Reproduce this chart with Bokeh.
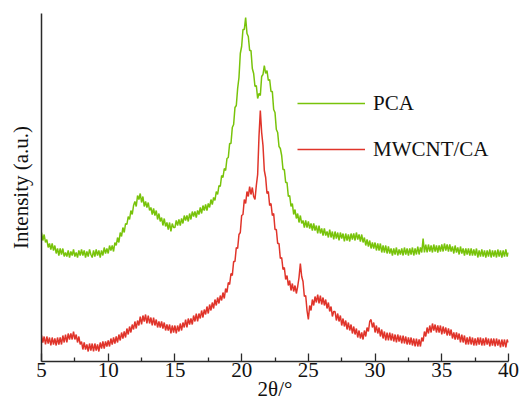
import numpy as np
from bokeh.plotting import figure
from bokeh.models import FixedTicker, Legend, LegendItem, ColumnDataSource
from bokeh.embed import file_html
from bokeh.resources import INLINE

# 2theta sampling grid (degrees), 0.1 deg step from 5 to 40
two_theta = [round(5.0 + 0.1 * i, 1) for i in range(351)]

# Intensity (a.u.), one row per degree (5.0 ... 5.9, 6.0 ...)
pca = [
    129,121,127,119,122,114,118,112,118,111,
    116,108,113,106,113,107,113,105,109,105,
    111,104,110,106,112,105,109,104,111,106,
    112,106,111,104,110,105,112,107,104,111,
    105,112,106,111,104,111,106,114,108,113,
    108,116,111,116,110,119,116,124,119,129,
    125,134,129,138,137,145,142,151,147,156,
    160,155,166,162,168,159,165,155,160,154,
    159,151,154,147,153,146,151,142,148,140,
    144,136,143,135,139,132,139,130,138,134,
    134,141,136,142,136,143,138,146,141,146,
    140,148,142,150,145,150,144,151,147,154,
    148,156,151,157,151,158,154,162,157,164,
    161,170,167,176,175,186,184,193,191,203,
    204,218,218,234,237,254,256,273,284,308,
    315,332,332,344,328,325,311,311,293,288,
    275,276,263,268,266,285,287,296,288,291,
    281,282,270,270,252,249,232,229,215,213,
    206,192,192,179,179,165,166,155,158,147,
    152,143,148,139,146,138,141,134,141,134,
    140,133,138,131,138,131,136,128,136,128,
    133,126,133,126,130,124,132,124,130,122,
    130,123,129,121,129,123,128,120,128,121,
    127,120,128,122,128,121,129,122,127,120,
    127,119,124,116,122,115,121,113,119,113,
    119,111,118,111,118,109,116,109,116,108,
    115,108,113,106,113,107,114,106,112,107,
    113,106,114,107,113,106,113,107,114,106,
    113,107,115,107,114,109,123,109,117,109,
    117,110,116,109,117,110,116,109,116,110,
    117,110,118,111,117,110,117,110,115,108,
    116,109,114,107,115,108,113,106,113,107,
    113,106,113,106,112,106,113,104,111,105,
    112,105,111,104,111,105,112,104,111,105,
    111,104,112,105,111,104,111,105,112,105,
    109,
]

mwcnt_ca = [
    26,19,25,17,25,18,24,16,24,17,
    23,16,24,17,24,17,26,19,27,19,
    28,22,28,22,30,22,27,19,25,17,
    20,12,19,12,17,10,18,11,18,10,
    18,11,17,10,19,13,20,13,20,15,
    21,15,23,17,24,18,25,19,27,21,
    29,23,30,24,33,27,35,29,37,32,
    40,33,41,36,45,37,46,40,47,38,
    46,38,44,36,44,36,42,34,40,34,
    40,33,39,31,37,31,37,28,36,29,
    36,28,36,30,38,31,39,34,42,34,
    43,37,43,37,46,40,48,40,48,43,
    51,44,52,47,55,48,57,51,59,53,
    62,56,64,58,66,61,69,63,73,69,
    79,77,88,86,100,100,114,113,127,129,
    146,147,162,158,170,165,175,167,174,165,
    162,176,187,225,251,229,216,191,184,168,
    170,156,158,146,148,132,132,118,118,103,
    104,92,94,82,86,76,81,71,78,70,
    76,68,75,84,98,85,80,65,66,51,
    42,56,51,62,56,65,59,67,58,66,
    57,64,56,62,53,59,50,55,45,50,
    50,41,48,40,46,36,43,35,41,32,
    39,31,37,28,35,27,33,24,31,23,
    29,22,31,25,34,30,40,42,34,39,
    29,36,28,34,25,32,23,30,21,29,
    21,29,21,28,20,27,19,27,20,26,
    18,26,18,25,17,24,17,24,16,23,
    15,23,15,22,15,24,20,30,25,34,
    28,36,29,38,31,37,29,36,29,36,
    27,35,28,34,26,33,26,32,23,29,
    22,29,22,28,19,27,19,26,17,24,
    17,25,17,24,16,23,16,24,17,24,
    16,23,16,24,17,23,15,23,16,23,
    15,23,16,22,14,22,15,22,14,22,
    19,
]

series_names = ["PCA", "MWCNT/CA"]
x_ticks = [5, 10, 15, 20, 25, 30, 35, 40]
x_minor = [7.5, 12.5, 17.5, 22.5, 27.5, 32.5, 37.5]
x_title = "2θ/°"
y_title = "Intensity (a.u.)"

assert len(pca) == len(two_theta) == len(mwcnt_ca)

SERIF = "Liberation Serif"
GREEN = "#78c30a"
RED = "#e0342a"
INK = "#111111"
AXIS = "#2a2a2a"

src = ColumnDataSource(dict(x=two_theta, pca=pca, cnt=mwcnt_ca))

p = figure(width=521, height=408, x_range=(5, 40), y_range=(0, 348),
           output_backend="svg", toolbar_location=None,
           min_border_left=41, min_border_right=13, min_border_top=13,
           min_border_bottom=47)
p.outline_line_color = None
p.xgrid.visible = False
p.ygrid.visible = False

g = p.line("x", "pca", source=src, line_color=GREEN, line_width=1.5)
r = p.line("x", "cnt", source=src, line_color=RED, line_width=1.5)

xa = p.xaxis[0]
xa.ticker = FixedTicker(ticks=x_ticks, minor_ticks=x_minor)
xa.major_tick_in = 8
xa.major_tick_out = 0
xa.minor_tick_in = 4
xa.minor_tick_out = 0
xa.axis_line_width = 1.5
xa.axis_line_color = AXIS
xa.major_tick_line_color = AXIS
xa.minor_tick_line_color = AXIS
xa.major_tick_line_width = 1.3
xa.minor_tick_line_width = 1.3
xa.major_label_text_font = SERIF
xa.major_label_text_font_size = "21px"
xa.major_label_text_color = INK
xa.major_label_standoff = 1
xa.axis_label = x_title
xa.axis_label_text_font = SERIF
xa.axis_label_text_font_size = "21px"
xa.axis_label_text_font_style = "normal"
xa.axis_label_text_color = INK
xa.axis_label_standoff = -3

ya = p.yaxis[0]
ya.ticker = FixedTicker(ticks=[])
ya.major_tick_line_color = None
ya.minor_tick_line_color = None
ya.major_tick_in = 0
ya.major_tick_out = 0
ya.major_label_standoff = 0
ya.major_label_text_font_size = "0px"
ya.axis_line_width = 1.5
ya.axis_line_color = AXIS
ya.axis_label = y_title
ya.axis_label_text_font = SERIF
ya.axis_label_text_font_size = "21px"
ya.axis_label_text_font_style = "normal"
ya.axis_label_text_color = INK
ya.axis_label_standoff = 9

legend = Legend(items=[LegendItem(label=series_names[0], renderers=[g]),
                       LegendItem(label=series_names[1], renderers=[r])],
                location=(256, 199), border_line_color=None,
                background_fill_alpha=0, padding=0, margin=0,
                glyph_width=68, glyph_height=26, label_height=26,
                spacing=20, label_standoff=8,
                label_text_font=SERIF, label_text_font_size="21px",
                label_text_color=INK)
p.add_layout(legend)

open("out.html", "w").write(file_html(p, INLINE))
